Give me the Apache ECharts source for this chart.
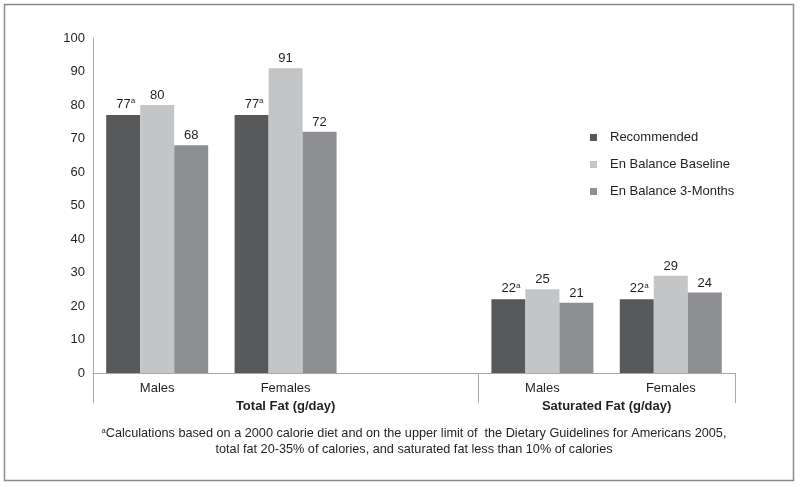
<!DOCTYPE html>
<html><head><meta charset="utf-8">
<script src="https://cdn.jsdelivr.net/npm/echarts@6/dist/echarts.min.js"></script>
<style>html,body{margin:0;padding:0;background:#fff}#c{width:800px;height:487px}</style>
</head><body><div id="c"></div>
<script>
const categories = ['Males', 'Females', '', 'Males', 'Females'];
const groupLabels = ['Total Fat (g/day)', 'Saturated Fat (g/day)'];
const seriesNames = ['Recommended', 'En Balance Baseline', 'En Balance 3-Months'];
const recommended = [77, 77, null, 22, 22];
const baseline = [80, 91, null, 25, 29];
const threeMonths = [68, 72, null, 21, 24];
const yTicks = {min: 0, max: 100, interval: 10};
const footnote1 = 'Calculations based on a 2000 calorie diet and on the upper limit of  the Dietary Guidelines for Americans 2005,';
const footnote2 = 'total fat 20-35% of calories, and saturated fat less than 10% of calories';

const FONT = '"Liberation Sans", Arial, sans-serif';
const TXT = '#231f20';
const colors = ['#58595b', '#c4c5c7', '#8e8f92'];

const chart = echarts.init(document.getElementById('c'));
const baseLabel = {show: true, position: 'top', distance: 3, color: TXT, fontFamily: FONT, fontSize: 13};
function mk(name, data, idx, sup) {
  const s = {
    name, type: 'bar', data, barWidth: 34, barGap: '0%',
    itemStyle: {color: colors[idx]},
    label: Object.assign({}, baseLabel),
    emphasis: {disabled: true}
  };
  if (sup) {
    s.label.formatter = p => '{v|' + p.value + '}{s|a}';
    s.label.offset = [2.5, 0];
    s.label.rich = {v: {fontSize: 13, color: TXT, fontFamily: FONT}, s: {fontSize: 8, color: TXT, fontFamily: FONT, verticalAlign: 'top', padding: [0, 0, 7, 0]}};
  }
  return s;
}
chart.setOption({
  animation: false,
  textStyle: {fontFamily: FONT},
  grid: {left: 93, right: 65, top: 38, bottom: 114, containLabel: false},
  legend: {
    orient: 'vertical', left: 585, top: 126, icon: 'rect', itemWidth: 7, itemHeight: 7,
    itemGap: 14, textStyle: {color: TXT, fontSize: 13, fontFamily: FONT, padding: [0, 0, 0, 8]}, data: seriesNames, selectedMode: false
  },
  xAxis: {
    type: 'category', data: categories,
    axisLine: {lineStyle: {color: '#a7a9ac', width: 1}},
    axisTick: {show: false},
    axisLabel: {color: TXT, fontSize: 13, margin: 9, fontFamily: FONT}
  },
  yAxis: {
    type: 'value', min: yTicks.min, max: yTicks.max, interval: yTicks.interval,
    axisLine: {show: true, lineStyle: {color: '#a7a9ac', width: 1}},
    axisTick: {show: false}, splitLine: {show: false},
    axisLabel: {color: TXT, fontSize: 13, margin: 8, fontFamily: FONT}
  },
  series: [mk(seriesNames[0], recommended, 0, true), mk(seriesNames[1], baseline, 1), mk(seriesNames[2], threeMonths, 2)]
});

// decorations derived from the axis scale
const c0 = chart.convertToPixel({xAxisIndex: 0}, 0);
const c1 = chart.convertToPixel({xAxisIndex: 0}, 1);
const c2 = chart.convertToPixel({xAxisIndex: 0}, 2);
const c3 = chart.convertToPixel({xAxisIndex: 0}, 3);
const c4 = chart.convertToPixel({xAxisIndex: 0}, 4);
const band = c1 - c0;
const y0 = chart.convertToPixel({yAxisIndex: 0}, 0);
const seps = [c0 - band / 2, c2 + band / 2, c4 + band / 2];
const g = [];
seps.forEach(x => g.push({type: 'line', shape: {x1: Math.round(x) + 0.5, y1: y0, x2: Math.round(x) + 0.5, y2: y0 + 30}, style: {stroke: '#a7a9ac', lineWidth: 1}, silent: true}));
g.push({type: 'text', x: c1, y: y0 + 33, style: {text: groupLabels[0], fill: TXT, font: 'bold 13px ' + FONT, align: 'center', verticalAlign: 'middle'}});
g.push({type: 'text', x: (c3 + c4) / 2, y: y0 + 33, style: {text: groupLabels[1], fill: TXT, font: 'bold 13px ' + FONT, align: 'center', verticalAlign: 'middle'}});
g.push({type: 'text', x: 414, y: 433, style: {text: '{s|a}{t|' + footnote1 + '}', align: 'center', verticalAlign: 'middle',
  rich: {s: {fontSize: 7.5, fill: TXT, fontFamily: FONT, verticalAlign: 'top', padding: [0, 0, 5, 0]}, t: {fontSize: 12.7, fill: TXT, fontFamily: FONT}}}});
g.push({type: 'text', x: 414, y: 449, style: {text: footnote2, fill: TXT, fontSize: 12.7, fontFamily: FONT, align: 'center', verticalAlign: 'middle'}});
g.push({type: 'rect', shape: {x: 4.5, y: 4.5, width: 789, height: 476}, style: {fill: 'none', stroke: '#8a8a8a', lineWidth: 1.5}, silent: true, z: -1});
chart.setOption({graphic: g});
</script></body></html>
